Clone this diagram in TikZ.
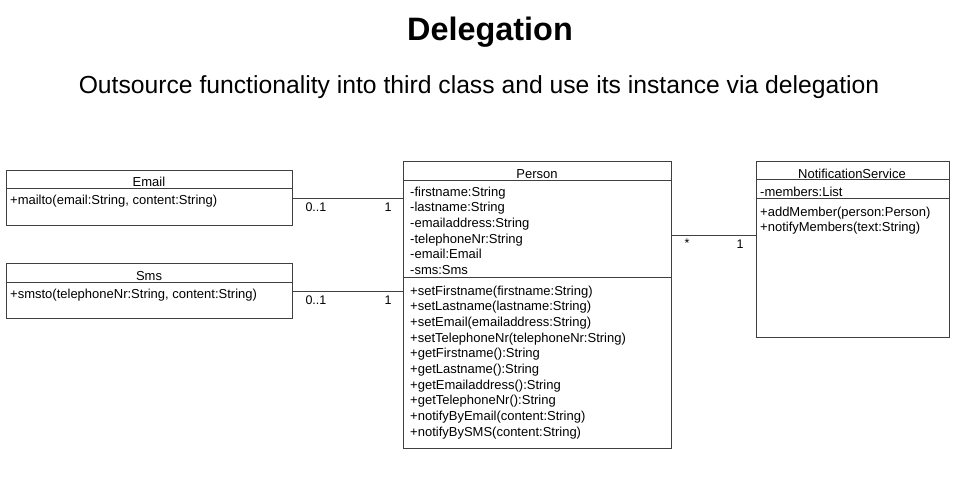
\documentclass[tikz,border=0pt]{standalone}
\usepackage{fontspec}
\setmainfont{Liberation Sans}
\usetikzlibrary{positioning}

\tikzset{
    classbox/.style={draw=black!75, line width=0.8pt, inner sep=0pt, anchor=north west},
    member/.style={font=\fontsize{13}{15}\selectfont, inner sep=0pt, anchor=base west},
    classname/.style={font=\fontsize{13}{15}\selectfont, inner sep=0pt, anchor=base},
    mult/.style={font=\fontsize{12.5}{14}\selectfont, inner sep=0pt, anchor=base},
    assoc/.style={draw=black!75, line width=0.8pt}
}

\begin{document}
\begin{tikzpicture}[x=1pt, y=-1pt]
    \useasboundingbox (0,0) rectangle (963,484);

    \node [font=\fontsize{32.4}{38}\selectfont\bfseries, inner sep=0pt, anchor=base] (title) at (490,41) {Delegation};
    \node [font=\fontsize{24.7}{30}\selectfont, inner sep=0pt, anchor=base] (subtitle) at (479,94) {Outsource functionality into third class and use its instance via delegation};

    % Email
    \node [classbox, minimum width=286pt, minimum height=55pt] (email) at (6,170) {};
    \draw [assoc] (6,188) -- (292,188);
    \node [classname] (emailname) at (149,186) {Email};
    \node [member] (mailto) at (10,204) {+mailto(email:String, content:String)};

    % Sms
    \node [classbox, minimum width=286pt, minimum height=55pt] (sms) at (6,263) {};
    \draw [assoc] (6,282) -- (292,282);
    \node [classname] (smsname) at (149,280) {Sms};
    \node [member] (smsto) at (10,298) {+smsto(telephoneNr:String, content:String)};

    % Person
    \node [classbox, minimum width=268pt, minimum height=287pt] (person) at (403,161) {};
    \draw [assoc] (403,180) -- (671,180);
    \draw [assoc] (403,277) -- (671,277);
    \node [classname] (personname) at (537,178) {Person};
    \foreach \t [count=\i from 0] in {-firstname:String, -lastname:String, -emailaddress:String,
        -telephoneNr:String, -email:Email, -sms:Sms}
        \node [member] (attr-\i) at (410,196+15.7*\i) {\t};
    \foreach \t [count=\i from 0] in {+setFirstname(firstname:String), +setLastname(lastname:String),
        +setEmail(emailaddress:String), +setTelephoneNr(telephoneNr:String), +getFirstname():String,
        +getLastname():String, +getEmailaddress():String, +getTelephoneNr():String,
        +notifyByEmail(content:String), +notifyBySMS(content:String)}
        \node [member] (op-\i) at (410,295+15.7*\i) {\t};

    % NotificationService
    \node [classbox, minimum width=193pt, minimum height=176pt] (notify) at (756,161) {};
    \draw [assoc] (756,179) -- (949,179);
    \draw [assoc] (756,198) -- (949,198);
    \node [classname] (notifyname) at (852,178) {NotificationService};
    \node [member] (members) at (760,196) {-members:List};
    \node [member] (addmember) at (760,216) {+addMember(person:Person)};
    \node [member] (notifymembers) at (760,231) {+notifyMembers(text:String)};

    % associations
    \draw [assoc] (email.east) -- (email.east -| person.west)
        node [mult, pos=0.21, yshift=-14pt] (emailmult) {0..1}
        node [mult, pos=0.865, yshift=-14pt] (personmult-a) {1};
    \draw [assoc] (sms.east) -- (sms.east -| person.west)
        node [mult, pos=0.21, yshift=-14pt] (smsmult) {0..1}
        node [mult, pos=0.865, yshift=-14pt] (personmult-b) {1};
    \draw [assoc] ([yshift=14pt]notify.west -| person.east) -- ([yshift=14pt]notify.west)
        node [mult, pos=0.18, yshift=-12pt] (personmult-c) {*}
        node [mult, pos=0.81, yshift=-13pt] (notifymult) {1};
\end{tikzpicture}
\end{document}
